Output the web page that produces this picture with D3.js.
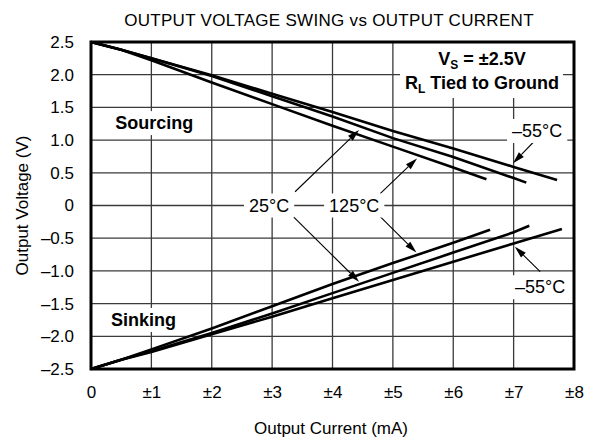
<!DOCTYPE html>
<html>
<head>
<meta charset="utf-8">
<script src="https://cdn.jsdelivr.net/npm/d3@7"></script>
<style>
  body { margin: 0; background: #fff; }
  text { font-family: "Liberation Sans", Arial, sans-serif; fill: #000; }
</style>
</head>
<body>
<svg id="chart" width="598" height="440" viewBox="0 0 598 440"></svg>
<script>
// tick labels
const xTicks = [0, 1, 2, 3, 4, 5, 6, 7, 8]
const xTickLabels = ["0", "±1", "±2", "±3", "±4", "±5", "±6", "±7", "±8"]
const yTicks = [2.5, 2.0, 1.5, 1.0, 0.5, 0, -0.5, -1.0, -1.5, -2.0, -2.5]
const yTickLabels = ["2.5", "2.0", "1.5", "1.0", "0.5", "0", "–0.5", "–1.0", "–1.5", "–2.0", "–2.5"]

// sourcing curves (current mA, voltage V)
const srcM55I = [0, 0.5, 1, 2, 3, 4, 5, 6, 7, 7.72]
const srcM55V = [2.5, 2.38, 2.25, 1.99, 1.71, 1.43, 1.14, 0.87, 0.59, 0.39]
const src25I = [0, 0.5, 1, 2, 3, 4, 5, 6, 7, 7.21]
const src25V = [2.5, 2.38, 2.25, 1.98, 1.67, 1.36, 1.03, 0.74, 0.42, 0.35]
const src125I = [0, 0.5, 1, 2, 3, 4, 5, 6, 6.55]
const src125V = [2.5, 2.38, 2.22, 1.88, 1.55, 1.22, 0.90, 0.58, 0.40]

// sinking curves
const snkM55I = [0, 0.5, 1, 2, 3, 4, 5, 6, 7, 7.8]
const snkM55V = [-2.5, -2.36, -2.24, -1.97, -1.70, -1.42, -1.14, -0.86, -0.58, -0.36]
const snk25I = [0, 0.5, 1, 2, 3, 4, 5, 6, 7, 7.26]
const snk25V = [-2.5, -2.36, -2.23, -1.95, -1.65, -1.34, -1.03, -0.72, -0.41, -0.31]
const snk125I = [0, 0.5, 1, 2, 3, 4, 5, 6, 6.61]
const snk125V = [-2.5, -2.36, -2.2, -1.88, -1.54, -1.20, -0.88, -0.57, -0.37]

const svg = d3.select("#chart")
const pL = 91, pR = 574, pT = 42, pB = 369

const x = d3.scaleLinear().domain([0, 8]).range([pL, pR])
const y = d3.scaleLinear().domain([-2.5, 2.5]).range([pB, pT])

// title
svg.append("text")
    .attr("x", 329).attr("y", 26)
    .attr("text-anchor", "middle")
    .style("font-size", "17px")
    .style("letter-spacing", "0.3px")
    .text("OUTPUT VOLTAGE SWING vs OUTPUT CURRENT")

// grid
const grid = svg.append("g")
grid.selectAll(".vg").data(xTicks.slice(1, -1)).enter().append("line")
    .attr("x1", d => x(d)).attr("x2", d => x(d))
    .attr("y1", pT).attr("y2", pB)
    .attr("stroke", "#3a3a3a").attr("stroke-width", 1.3)
grid.selectAll(".hg").data(yTicks.slice(1, -1)).enter().append("line")
    .attr("y1", d => y(d)).attr("y2", d => y(d))
    .attr("x1", pL).attr("x2", pR)
    .attr("stroke", "#3a3a3a").attr("stroke-width", 1.3)

// axes (labels only)
const xAxis = svg.append("g")
    .attr("transform", `translate(0,${pB})`)
    .call(d3.axisBottom(x).tickValues(xTicks).tickSize(0).tickPadding(17)
        .tickFormat((d, i) => xTickLabels[i]))
xAxis.select(".domain").remove()
xAxis.selectAll("text").style("font-size", "17px")

const yAxis = svg.append("g")
    .attr("transform", `translate(${pL},0)`)
    .call(d3.axisLeft(y).tickValues(yTicks).tickSize(0).tickPadding(17)
        .tickFormat((d, i) => yTickLabels[i]))
yAxis.select(".domain").remove()
yAxis.selectAll("text").style("font-size", "17px")

svg.append("text")
    .attr("x", 331).attr("y", 434)
    .attr("text-anchor", "middle")
    .style("font-size", "17px")
    .text("Output Current (mA)")

svg.append("text")
    .attr("transform", `translate(28,${(pT + pB) / 2}) rotate(-90)`)
    .attr("text-anchor", "middle")
    .style("font-size", "17px")
    .text("Output Voltage (V)")

// labels with white backing boxes
function boxedLabel(px, py, txt, size, weight, anchor) {
    const g = svg.append("g")
    const t = g.append("text")
        .attr("x", px).attr("y", py)
        .attr("text-anchor", anchor || "middle")
        .attr("dominant-baseline", "central")
        .style("font-size", size + "px")
        .style("font-weight", weight || "normal")
        .text(txt)
    const b = t.node().getBBox()
    g.insert("rect", "text")
        .attr("x", b.x - 5).attr("y", b.y - 2)
        .attr("width", b.width + 10).attr("height", b.height + 4)
        .attr("fill", "#fff")
    return g
}

// legend box
const legend = svg.append("g")
legend.append("rect")
    .attr("x", 400).attr("y", pT).attr("width", 163).attr("height", 56)
    .attr("fill", "#fff")
const vs = legend.append("text")
    .attr("x", 482).attr("y", 65)
    .attr("text-anchor", "middle")
    .style("font-size", "18px").style("font-weight", "bold")
vs.append("tspan").text("V")
vs.append("tspan").attr("dy", 4).style("font-size", "12px").text("S")
vs.append("tspan").attr("dy", -4).text(" = ±2.5V")
const rl = legend.append("text")
    .attr("x", 482).attr("y", 89)
    .attr("text-anchor", "middle")
    .style("font-size", "18px").style("font-weight", "bold")
rl.append("tspan").text("R")
rl.append("tspan").attr("dy", 4).style("font-size", "12px").text("L")
rl.append("tspan").attr("dy", -4).text(" Tied to Ground")

boxedLabel(x(0.4), y(1.26), "Sourcing", 18, "bold", "start")
boxedLabel(x(0.33), y(-1.75), "Sinking", 18, "bold", "start")

// curves
const series = [
    [srcM55I, srcM55V], [src25I, src25V], [src125I, src125V],
    [snkM55I, snkM55V], [snk25I, snk25V], [snk125I, snk125V]
]
const line = d3.line().x(d => x(d[0])).y(d => y(d[1]))
svg.append("g").selectAll("path")
    .data(series.map(s => s[0].map((c, i) => [c, s[1][i]])))
    .enter().append("path")
    .attr("d", line)
    .attr("fill", "none")
    .attr("stroke", "#000")
    .attr("stroke-width", 2.6)

// frame
svg.append("rect")
    .attr("x", pL).attr("y", pT)
    .attr("width", pR - pL).attr("height", pB - pT)
    .attr("fill", "none").attr("stroke", "#000").attr("stroke-width", 3)

// annotations: [fromI, fromV, toI, toV]
const arrows = [
    [3.38, 0.21, 4.44, 1.155],
    [4.79, 0.18, 5.40, 0.72],
    [7.35, 0.99, 6.99, 0.645],
    [3.35, -0.17, 4.44, -1.165],
    [4.79, -0.17, 5.39, -0.72],
    [7.44, -1.01, 7.02, -0.63]
]
const ag = svg.append("g")
arrows.forEach(a => {
    const x1 = x(a[0]), y1 = y(a[1]), x2 = x(a[2]), y2 = y(a[3])
    const ang = Math.atan2(y2 - y1, x2 - x1)
    const L = 12, W = 3.4
    const bx = x2 - L * Math.cos(ang), by = y2 - L * Math.sin(ang)
    ag.append("line")
        .attr("x1", x1).attr("y1", y1).attr("x2", bx).attr("y2", by)
        .attr("stroke", "#000").attr("stroke-width", 1.1)
    ag.append("path")
        .attr("d", `M${x2},${y2}L${bx - W * Math.sin(ang)},${by + W * Math.cos(ang)}L${bx + W * Math.sin(ang)},${by - W * Math.cos(ang)}Z`)
        .attr("fill", "#000")
})

boxedLabel(x(2.95), y(0), "25°C", 18)
boxedLabel(x(4.36), y(0), "125°C", 18)
boxedLabel(x(7.39), y(1.14), "–55°C", 18)
boxedLabel(x(7.44), y(-1.25), "–55°C", 18)
</script>
</body>
</html>
